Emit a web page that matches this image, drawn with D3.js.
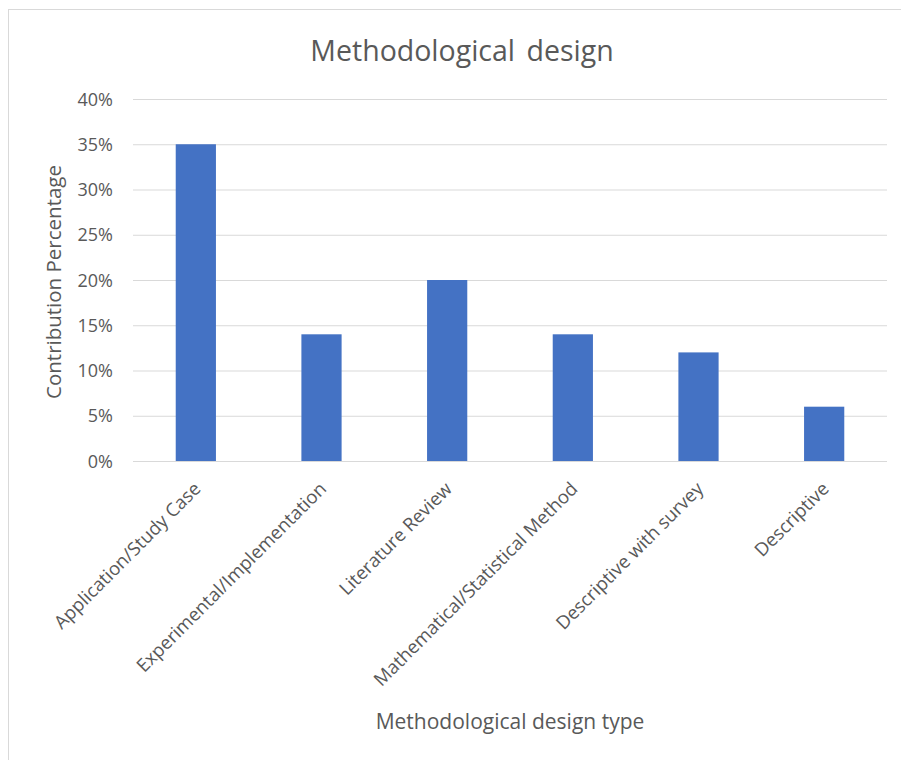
<!DOCTYPE html>
<html><head><meta charset="utf-8">
<script src="https://cdn.jsdelivr.net/npm/d3@7"></script>
<style>body{margin:0;background:#fff;} text{font-family:"Open Sans","Noto Sans",sans-serif;fill:#595959;}</style>
</head><body>
<svg id="c" width="901" height="760"></svg>
<script>
const categories = ["Application/Study Case","Experimental/Implementation","Literature Review","Mathematical/Statistical Method","Descriptive with survey","Descriptive"];
const values = [0.35, 0.14, 0.20, 0.14, 0.12, 0.06];
const yTicks = [0,0.05,0.10,0.15,0.20,0.25,0.30,0.35,0.40];
const title = "Methodological design";
const xTitle = "Methodological design type";
const yTitle = "Contribution Percentage";

const svg = d3.select("#c");
svg.append("rect").attr("x",8.5).attr("y",9.5).attr("width",920).attr("height",780)
  .attr("fill","#fff").attr("stroke","#d9d9d9");

const m = {l:133, r:887, t:99, b:461};
const x = d3.scaleBand().domain(categories).range([m.l,m.r]).paddingInner(0.68).paddingOuter(0.34);
const y = d3.scaleLinear().domain([0,0.4]).range([m.b,m.t]);

const yAxis = svg.append("g").attr("transform",`translate(${m.l},0)`)
  .call(d3.axisLeft(y).tickValues(yTicks).tickFormat(d3.format(".0%")).tickSize(-(m.r-m.l)).tickPadding(20));
yAxis.select(".domain").remove();
yAxis.selectAll(".tick line").attr("stroke","#d9d9d9");
yAxis.selectAll(".tick text").attr("font-size",18).attr("dy","0.34em").style("fill","#595959");

svg.append("g").selectAll("rect").data(values).join("rect")
  .attr("x",(d,i)=>x(categories[i])).attr("width",x.bandwidth())
  .attr("y",d=>y(d)).attr("height",d=>y(0)-y(d)).attr("fill","#4472C4");

const xAxis = svg.append("g").attr("transform",`translate(0,${m.b})`)
  .call(d3.axisBottom(x).tickSize(0).tickPadding(0));
xAxis.select(".domain").remove();
xAxis.selectAll(".tick text").attr("font-size",18.5).style("fill","#595959")
  .attr("text-anchor","end").attr("dy",0)
  .attr("transform","translate(6,29) rotate(-45)");

svg.append("text").attr("x",462).attr("y",61).attr("text-anchor","middle").attr("font-size",28.5).attr("word-spacing",4).text(title);
svg.append("text").attr("x",(m.l+m.r)/2).attr("y",729).attr("text-anchor","middle").attr("font-size",21).text(xTitle);
svg.append("text").attr("transform",`translate(61,${(m.t+m.b)/2 + 2}) rotate(-90)`).attr("text-anchor","middle").attr("font-size",20.5).text(yTitle);
</script>
</body></html>
